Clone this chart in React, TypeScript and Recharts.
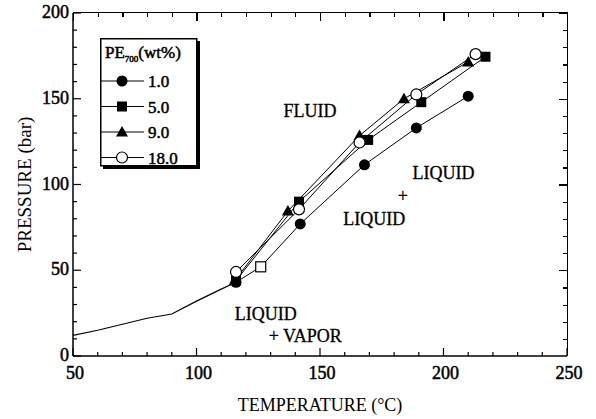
import { LineChart, Line, XAxis, YAxis, Legend, ReferenceDot } from 'recharts';

// temperature (°C) vs pressure (bar)
const lowCurve = [
  { t: 50, p: 12 },
  { t: 60, p: 15 },
  { t: 70, p: 18.5 },
  { t: 80, p: 22 },
  { t: 90, p: 24.5 },
  { t: 100, p: 32 },
  { t: 110, p: 39 },
  { t: 116, p: 43 },
];

const pe1 = [
  { t: 116, p: 43 },
  { t: 126, p: 52 },
  { t: 142, p: 77 },
  { t: 168, p: 111.5 },
  { t: 189, p: 133 },
  { t: 210, p: 151.5 },
];
// the one point drawn as an open square in the 1.0 series
const openSquareT = 126;

const pe5 = [
  { t: 116, p: 44 },
  { t: 141.5, p: 90 },
  { t: 169.5, p: 126 },
  { t: 191, p: 148 },
  { t: 217, p: 174.5 },
];

const pe9 = [
  { t: 115.5, p: 44 },
  { t: 137, p: 84.5 },
  { t: 166, p: 128.5 },
  { t: 184, p: 150 },
  { t: 210, p: 171.5 },
];

const pe18 = [
  { t: 116, p: 49 },
  { t: 141.5, p: 85.5 },
  { t: 166, p: 124.5 },
  { t: 189, p: 152.5 },
  { t: 213, p: 176 },
];

const xTicks = [50, 60, 70, 80, 90, 100, 110, 120, 130, 140, 150, 160, 170, 180, 190, 200, 210, 220, 230, 240, 250];
const yTicks = [0, 10, 20, 30, 40, 50, 60, 70, 80, 90, 100, 110, 120, 130, 140, 150, 160, 170, 180, 190, 200];

const legendLabels = ['1.0', '5.0', '9.0', '18.0'];

const regionLabels = [
  { t: 146, p: 143, text: 'FLUID' },
  { t: 200, p: 107, text: 'LIQUID' },
  { t: 183.5, p: 93.5, text: '+' },
  { t: 172, p: 80, text: 'LIQUID' },
  { t: 128, p: 25, text: 'LIQUID' },
  { t: 144, p: 12, text: '+ VAPOR' },
];

const FONT = '"Liberation Serif", "Times New Roman", serif';
const INK = '#000';
// faux-bold via a thin outline, the scan's lettering is heavy
const heavy = { stroke: INK, strokeWidth: 0.5 };

// chart geometry
const W = 596;
const H = 419;
const M = { top: 13, right: 29, bottom: 0, left: 0 };
const Y_AXIS_W = 73;
const X_AXIS_H = 63;
const plotW = W - M.right - Y_AXIS_W;
const plotH = H - M.top - X_AXIS_H;
const minorX = plotW / (xTicks.length - 1);
const minorY = plotH / (yTicks.length - 1);

function marker(kind: string, cx: number, cy: number, key?: any) {
  if (kind === 'circle') return <circle key={key} cx={cx} cy={cy} r={5.5} fill={INK} />;
  if (kind === 'square') return <rect key={key} x={cx - 5} y={cy - 5} width={10} height={10} fill={INK} />;
  if (kind === 'triangle')
    return <polygon key={key} points={`${cx},${cy - 6} ${cx + 6},${cy + 4.5} ${cx - 6},${cy + 4.5}`} fill={INK} />;
  if (kind === 'openSquare')
    return <rect key={key} x={cx - 5} y={cy - 5} width={10} height={10} fill="#fff" stroke={INK} strokeWidth={1.2} />;
  return <circle key={key} cx={cx} cy={cy} r={5.5} fill="#fff" stroke={INK} strokeWidth={1.2} />;
}

const dotFor = (kind: string) => (props: any) => {
  const { cx, cy, index, payload } = props;
  if (cx == null || cy == null) return <g key={index} />;
  const k = kind === 'circle' && payload.t === openSquareT ? 'openSquare' : kind;
  return marker(k, cx, cy, index);
};

const BottomTick = (props: any) => {
  const { x, y, payload } = props;
  const major = payload.value % 50 === 0;
  return (
    <g>
      <line x1={x} y1={y} x2={x} y2={y - (major ? 8 : 4)} stroke={INK} strokeWidth={1.2} />
      {major && (
        <text x={x + 2} y={y + 23} textAnchor="middle" fontFamily={FONT} fontSize={18} fill={INK} {...heavy}>
          {payload.value}
        </text>
      )}
    </g>
  );
};

const LeftTick = (props: any) => {
  const { x, y, payload } = props;
  const major = payload.value % 50 === 0;
  return (
    <g>
      <line x1={x} y1={y} x2={x + (major ? 8 : 4)} y2={y} stroke={INK} strokeWidth={1.2} />
      {major && (
        <text x={x - 4} y={y + 5} textAnchor="end" fontFamily={FONT} fontSize={18} fill={INK} {...heavy}>
          {payload.value}
        </text>
      )}
    </g>
  );
};

const kinds = ['circle', 'square', 'triangle', 'open'];

const LegendBox = () => (
  <svg width={102} height={134} style={{ display: 'block' }}>
    <rect x={3} y={3} width={97} height={128} fill={INK} />
    <rect x={0.75} y={0.75} width={96} height={127} fill="#fff" stroke={INK} strokeWidth={1.5} />
    <text x={5} y={20} fontFamily={FONT} fontSize={17} fill={INK} {...heavy}>
      PE
      <tspan fontSize={9} dy={4}>700</tspan>
      <tspan fontSize={17} dy={-4}>(wt%)</tspan>
    </text>
    {legendLabels.map((lab, i) => {
      const ry = 43 + i * 25.5;
      return (
        <g key={lab}>
          <line x1={1} y1={ry} x2={44} y2={ry} stroke={INK} strokeWidth={1} />
          {marker(kinds[i], 22, ry)}
          <text x={48} y={ry + 6} fontFamily={FONT} fontSize={17} fill={INK} {...heavy}>
            {lab}
          </text>
        </g>
      );
    })}
  </svg>
);

// top and right edges of the box with their inward ticks, laid over the plot area
const tickStripes = (dir: string, step: number) =>
  `repeating-linear-gradient(${dir}, ${INK} 0 1.2px, transparent 1.2px ${step}px)`;

const FrameTopRight = () => (
  <div
    style={{
      position: 'absolute',
      left: Y_AXIS_W + M.left,
      top: M.top - 0.75,
      width: plotW + 0.75,
      height: plotH + 0.75,
      boxSizing: 'border-box',
      borderTop: `1.5px solid ${INK}`,
      borderRight: `1.5px solid ${INK}`,
      pointerEvents: 'none',
      backgroundImage: [
        tickStripes('90deg', minorX),
        tickStripes('90deg', minorX * 5),
        tickStripes('180deg', minorY),
        tickStripes('180deg', minorY * 5),
      ].join(','),
      backgroundSize: '100% 4px, 100% 8px, 4px 100%, 8px 100%',
      backgroundPosition: 'left top, left top, right top, right top',
      backgroundRepeat: 'no-repeat',
    }}
  />
);

export default function App() {
  return (
    <div style={{ position: 'absolute', left: 0, top: 0, width: W, height: H, background: '#fff' }}>
      <LineChart width={W} height={H} margin={M}>
        <XAxis
          dataKey="t"
          type="number"
          domain={[50, 250]}
          ticks={xTicks}
          interval={0}
          allowDataOverflow
          height={X_AXIS_H}
          tickSize={0}
          tickMargin={0}
          tickLine={false}
          tick={<BottomTick />}
          axisLine={{ stroke: INK, strokeWidth: 1.5 }}
          label={{ value: 'TEMPERATURE (°C)', position: 'insideBottom', offset: 8, fill: INK, fontFamily: FONT, fontSize: 18 }}
        />
        <YAxis
          type="number"
          domain={[0, 200]}
          ticks={yTicks}
          interval={0}
          allowDataOverflow
          width={Y_AXIS_W}
          tickSize={0}
          tickMargin={0}
          tickLine={false}
          tick={<LeftTick />}
          axisLine={{ stroke: INK, strokeWidth: 1.5 }}
          label={{ value: 'PRESSURE (bar)', angle: -90, position: 'insideLeft', offset: 24, fill: INK, fontFamily: FONT, fontSize: 19, style: { textAnchor: 'middle' } }}
        />
        <Legend
          layout="vertical"
          align="center"
          verticalAlign="middle"
          content={() => <LegendBox />}
          wrapperStyle={{ left: 100, top: 38, width: 102, height: 134 }}
        />
        <Line data={lowCurve} dataKey="p" stroke={INK} strokeWidth={1.2} dot={false} isAnimationActive={false} legendType="none" />
        <Line data={pe1} dataKey="p" stroke={INK} strokeWidth={1} dot={dotFor('circle')} isAnimationActive={false} />
        <Line data={pe5} dataKey="p" stroke={INK} strokeWidth={1} dot={dotFor('square')} isAnimationActive={false} />
        <Line data={pe9} dataKey="p" stroke={INK} strokeWidth={1} dot={dotFor('triangle')} isAnimationActive={false} />
        <Line data={pe18} dataKey="p" stroke={INK} strokeWidth={1} dot={dotFor('open')} isAnimationActive={false} />
        {regionLabels.map((r, i) => (
          <ReferenceDot
            key={i}
            x={r.t}
            y={r.p}
            r={1}
            fill="none"
            stroke="none"
            ifOverflow="visible"
            label={{ value: r.text, position: 'center', fill: INK, stroke: INK, strokeWidth: 0.3, fontFamily: FONT, fontSize: 18 }}
          />
        ))}
      </LineChart>
      <FrameTopRight />
    </div>
  );
}
